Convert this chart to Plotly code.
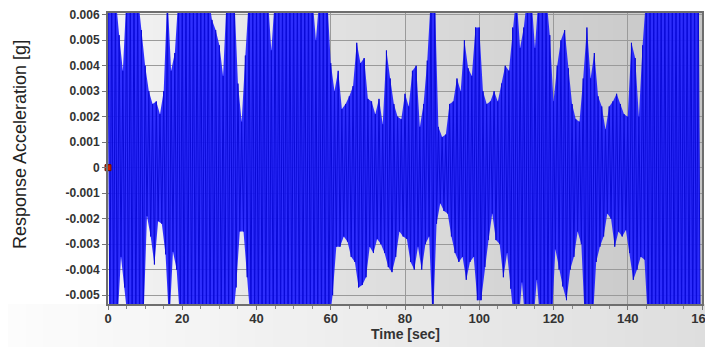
import plotly.graph_objects as go

# ---- data, values in milli-g, one upper and one lower peak per second ----
time_s = list(range(160))

upper_mg = [
    6.8, 6.8, 6.8, 5.2, 3.8, 6.8, 6.8, 6.8, 6.8, 5.4,   # 0-9
    4.0, 3.0, 2.5, 2.6, 2.1, 3.0, 6.8, 3.8, 4.5, 6.8,   # 10-19
    6.8, 6.8, 6.8, 6.8, 6.8, 6.8, 6.8, 6.8, 5.8, 5.4,   # 20-29
    4.8, 3.6, 6.8, 6.8, 6.8, 3.3, 1.8, 4.4, 6.8, 6.8,   # 30-39
    6.8, 6.8, 6.8, 6.8, 4.6, 6.8, 6.8, 6.8, 6.8, 6.8,   # 40-49
    6.8, 6.8, 6.8, 6.8, 6.8, 6.8, 5.0, 6.8, 6.8, 6.8,   # 50-59
    4.1, 3.0, 3.8, 2.3, 2.5, 2.8, 3.2, 4.9, 4.1, 4.3,   # 60-69
    2.7, 2.6, 2.1, 2.7, 1.7, 4.6, 3.5, 2.5, 2.0, 1.9,   # 70-79
    2.9, 2.4, 3.8, 4.0, 1.6, 2.5, 4.2, 6.8, 6.8, 1.6,   # 80-89
    1.2, 1.3, 2.5, 2.6, 3.5, 3.0, 5.0, 3.9, 3.6, 5.5,   # 90-99
    5.5, 3.0, 2.5, 2.6, 3.0, 2.6, 3.3, 4.0, 3.8, 5.5,   # 100-109
    6.8, 4.7, 5.5, 6.8, 6.8, 4.7, 6.8, 6.8, 6.8, 5.2,   # 110-119
    2.6, 4.0, 5.0, 5.4, 3.9, 2.5, 1.9, 1.8, 3.5, 5.5,   # 120-129
    3.5, 4.5, 2.8, 2.4, 1.5, 2.4, 2.6, 2.9, 2.5, 2.1,   # 130-139
    2.0, 4.9, 4.3, 2.0, 4.8, 6.8, 6.8, 6.8, 6.8, 6.8,   # 140-149
    6.8, 6.8, 6.8, 6.8, 6.8, 6.8, 6.8, 6.8, 6.8, 6.8,   # 150-159
]

lower_mg = [
    -6.2, -6.2, -6.2, -3.5, -4.7, -6.2, -6.2, -6.2, -6.2, -6.2,   # 0-9
    -1.9, -2.7, -3.8, -2.1, -2.2, -3.4, -6.2, -3.3, -4.0, -6.2,   # 10-19
    -6.2, -6.2, -6.2, -6.2, -6.2, -6.2, -6.2, -6.2, -6.2, -6.2,   # 20-29
    -6.2, -6.2, -6.2, -6.2, -4.7, -2.5, -2.5, -4.3, -6.2, -6.2,   # 30-39
    -6.2, -6.2, -6.2, -6.2, -6.2, -6.2, -6.2, -6.2, -6.2, -6.2,   # 40-49
    -6.2, -6.2, -6.2, -6.2, -6.2, -6.2, -6.2, -6.2, -6.2, -6.2,   # 50-59
    -5.0, -3.1, -3.1, -2.7, -2.9, -3.5, -3.7, -4.7, -4.6, -4.3,   # 60-69
    -3.1, -3.35, -2.8, -3.0, -3.35, -3.9, -4.1, -3.5, -2.5, -2.7, # 70-79
    -2.8, -3.7, -4.0, -3.1, -4.0, -3.0, -2.7, -6.2, -2.2, -1.4,   # 80-89
    -1.7, -1.8, -2.7, -3.35, -3.7, -3.5, -4.4, -3.7, -3.5, -5.2,  # 90-99
    -5.2, -3.9, -2.84, -1.8, -2.84, -3.0, -4.3, -3.35, -4.75, -6.2,  # 100-109
    -6.2, -4.5, -6.2, -6.2, -6.2, -4.4, -6.2, -6.2, -6.2, -6.2,   # 110-119
    -3.2, -4.0, -4.66, -5.2, -4.0, -3.5, -2.5, -3.0, -6.2, -6.2,  # 120-129
    -6.2, -3.7, -3.1, -2.7, -1.8, -2.0, -3.1, -2.5, -2.7, -2.45,  # 130-139
    -3.35, -4.4, -4.0, -3.5, -3.6, -6.2, -6.2, -6.2, -6.2, -6.2,  # 140-149
    -6.2, -6.2, -6.2, -6.2, -6.2, -6.2, -6.2, -6.2, -6.2, -6.2,   # 150-159
]

y_tick_values = [0.006, 0.005, 0.004, 0.003, 0.002, 0.001, 0.0,
                 -0.001, -0.002, -0.003, -0.004, -0.005]
y_tick_labels = ["0.006", "0.005", "0.004", "0.003", "0.002", "0.001", "0",
                 "-0.001", "-0.002", "-0.003", "-0.004", "-0.005"]
x_tick_values = [0, 20, 40, 60, 80, 100, 120, 140, 160]

marker_t = [0]
marker_g = [0.0]

# ---- derived series ----
t_up = list(time_s)
g_up = [v / 1000.0 for v in upper_mg]
t_lo = [t + 0.5 for t in time_s]
g_lo = [v / 1000.0 for v in lower_mg]

xs, ys = [], []
for a, b, c, d in zip(t_up, g_up, t_lo, g_lo):
    xs += [a, c]
    ys += [b, d]

# figure sits at (8, 8) in the page (default body margin)
W, H = 705, 339
ML, MR, MT, MB = 100, 11, 5, 43
PW = W - ML - MR
PH = H - MT - MB

fig = go.Figure()
fig.add_trace(go.Scatter(x=t_up, y=g_up, mode="lines", line=dict(width=0, color="#2b2bff"),
                         hoverinfo="skip", showlegend=False))
fig.add_trace(go.Scatter(x=t_lo, y=g_lo, mode="lines", line=dict(width=0, color="#2b2bff"),
                         fill="tonexty", fillcolor="rgba(30,30,255,0.92)",
                         hoverinfo="skip", showlegend=False))
fig.add_trace(go.Scatter(
    x=xs, y=ys, mode="lines",
    line=dict(color="#0a0ad8", width=1),
    hoverinfo="skip", showlegend=False,
))
fig.add_trace(go.Scatter(
    x=marker_t, y=marker_g, mode="markers",
    marker=dict(symbol="square", size=6, color="#d02000",
                line=dict(color="#6a1000", width=1)),
    cliponaxis=False, showlegend=False, hoverinfo="skip",
))

# ---- background gradients (decoration) ----
shapes = []
n = 40
for i in range(n):
    f = i / (n - 1)
    c = int(round(252 - f * 30))
    shapes.append(dict(type="rect", xref="paper", yref="paper", layer="below",
                       x0=-ML / PW + i * (W / PW) / n,
                       x1=-ML / PW + (i + 1) * (W / PW) / n + 0.002,
                       y0=-MB / PH, y1=0,
                       line=dict(width=0), fillcolor=f"rgb({c},{c},{c})"))
for i in range(n):
    f = i / (n - 1)
    c = int(round(242 - f * 44))
    shapes.append(dict(type="rect", xref="paper", yref="paper", layer="below",
                       x0=i / n, x1=(i + 1) / n + 0.002, y0=0, y1=1,
                       line=dict(width=0), fillcolor=f"rgb({c},{c},{c})"))

fig.update_layout(
    width=W, height=H,
    margin=dict(l=ML, r=MR, t=MT, b=MB, autoexpand=False),
    paper_bgcolor="white",
    plot_bgcolor="rgba(0,0,0,0)",
    shapes=shapes,
    font=dict(family="Liberation Sans, Arial, sans-serif", color="#333333"),
    xaxis=dict(
        range=[0, 160], tickvals=x_tick_values, automargin=False,
        showgrid=True, gridcolor="#9a9a9a", gridwidth=1,
        ticks="outside", ticklen=4, tickcolor="#777777",
        minor=dict(dtick=5, tick0=0, ticks="outside", ticklen=3, tickcolor="#888888", showgrid=False),
        showline=True, linecolor="#6e6e6e", linewidth=2, mirror=True,
        tickfont=dict(size=13, color="#333333", family="Liberation Sans, Arial, sans-serif", weight="bold"),
        ticklabelstandoff=-3, ticklabeloverflow="allow",
        zeroline=False,
    ),
    yaxis=dict(
        range=[-0.00535, 0.00607], automargin=False,
        tickvals=y_tick_values, ticktext=y_tick_labels,
        showgrid=True, gridcolor="#9a9a9a", gridwidth=1,
        ticks="outside", ticklen=4, tickcolor="#777777",
        showline=True, linecolor="#6e6e6e", linewidth=2, mirror=True,
        tickfont=dict(size=12, color="#333333", family="Liberation Sans, Arial, sans-serif", weight="bold"),
        ticklabeloverflow="allow",
        zeroline=False,
    ),
    annotations=[
        dict(text="Response Acceleration [g]", textangle=-90,
             xref="paper", yref="paper",
             x=(12 - ML) / PW, y=(H - MB - 137) / PH,
             xanchor="center", yanchor="middle", showarrow=False,
             font=dict(size=18, color="#222222", family="Liberation Sans, Arial, sans-serif")),
        dict(text="<b>Time [sec]</b>",
             xref="paper", yref="paper",
             x=0.5, y=(H - MB - 326) / PH,
             xanchor="center", yanchor="middle", showarrow=False,
             font=dict(size=14, color="#333333", family="Liberation Sans, Arial, sans-serif")),
    ],
)

fig.write_html("out.html")
